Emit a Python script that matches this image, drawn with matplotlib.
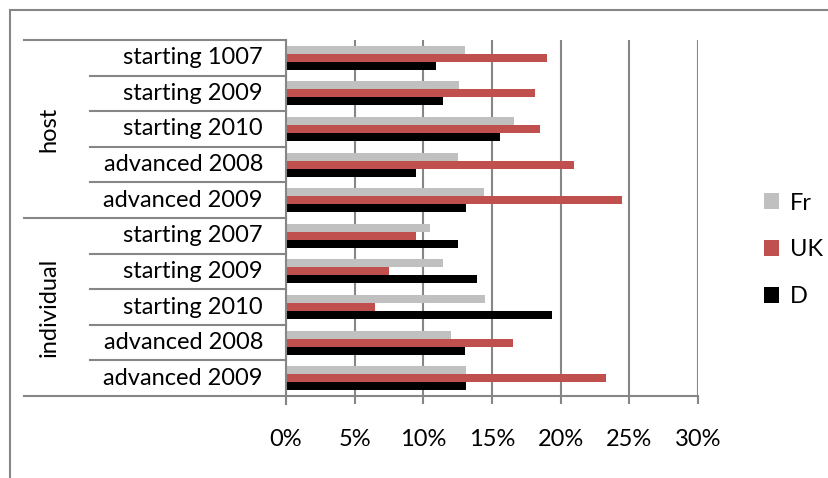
import numpy as np
import matplotlib
matplotlib.use('Agg')
import matplotlib.pyplot as plt
from matplotlib.patches import Rectangle
from matplotlib.transforms import blended_transform_factory

# Data (fraction in %)
groups     = ['host', 'individual']
categories = ['starting 1007', 'starting 2009', 'starting 2010', 'advanced 2008', 'advanced 2009',
              'starting 2007', 'starting 2009', 'starting 2010', 'advanced 2008', 'advanced 2009']
fr = [13.0, 12.6, 16.6, 12.5, 14.4, 10.5, 11.4, 14.5, 12.0, 13.1]
uk = [19.0, 18.1, 18.5, 21.0, 24.5,  9.5,  7.5,  6.5, 16.5, 23.3]
de = [10.9, 11.4, 15.6,  9.5, 13.1, 12.5, 13.9, 19.4, 13.0, 13.1]
xticks = [0, 5, 10, 15, 20, 25, 30]

# Style
W, H = 829, 478
grey_line = '#868686'
c_fr, c_uk, c_de = '#C0C0C0', '#C0504D', '#000000'
plt.rcParams['font.family'] = ['Lato', 'DejaVu Sans']
fs = 17

fig = plt.figure(figsize=(W / 100, H / 100), dpi=100)
ax = fig.add_axes([286 / W, 1 - 396 / H, (698 - 286) / W, (396 - 40) / H])

y = np.arange(len(categories))
bh = 0.225
ax.barh(y - bh, fr, height=bh, color=c_fr, label='Fr', zorder=3)
ax.barh(y,      uk, height=bh, color=c_uk, label='UK', zorder=3)
ax.barh(y + bh, de, height=bh, color=c_de, label='D', zorder=3)

ax.set_xlim(0, 30)
ax.set_ylim(len(categories) - 0.5, -0.5)
ax.set_xticks(xticks)
ax.set_xticklabels([f'{t}%' for t in xticks], fontsize=fs)
ax.set_yticks([])
ax.grid(axis='x', color=grey_line, lw=1.5, zorder=1)
ax.tick_params(axis='x', direction='out', length=6, width=1.5, color=grey_line, pad=18)
for s in ['top', 'right']:
    ax.spines[s].set_visible(False)
for s in ['left', 'bottom']:
    ax.spines[s].set_color(grey_line)
    ax.spines[s].set_linewidth(1.5)
    ax.spines[s].set_zorder(4)

# Category label area
tr = blended_transform_factory(fig.transFigure, ax.transData)
for b in np.arange(0.5, len(categories) - 1, 1.0):
    if b == 4.5:
        continue
    ax.plot([90 / W, 286 / W], [b, b], transform=tr, color=grey_line, lw=1.5, clip_on=False)
for b in [-0.5, 4.5, len(categories) - 0.5]:
    ax.plot([24 / W, 286 / W], [b, b], transform=tr, color=grey_line, lw=1.5, clip_on=False)
ax.plot([286 / W, 286 / W], [len(categories) - 0.5, len(categories) - 0.28], transform=tr,
        color=grey_line, lw=1.5, clip_on=False)
for i, lab in enumerate(categories):
    ax.text(263 / W, i, lab, transform=tr, ha='right', va='center', fontsize=fs)
for g, lab in enumerate(groups):
    ax.text(49 / W, 2 + 5 * g, lab, transform=tr, ha='center', va='center',
            rotation=90, fontsize=fs)

# Outer chart frame
fig.add_artist(Rectangle((10 / W, -0.05), 1.1, 1 - 10 / H + 0.05, transform=fig.transFigure,
                         fill=False, edgecolor=grey_line, lw=1.5))

ax.legend(loc='center left', bbox_to_anchor=(752 / W, 1 - 250 / H), bbox_transform=fig.transFigure,
          frameon=False, fontsize=fs, handlelength=0.65, handleheight=0.65, handletextpad=0.45,
          labelspacing=1.1, borderpad=0)

fig.savefig('out.png', dpi=100)
